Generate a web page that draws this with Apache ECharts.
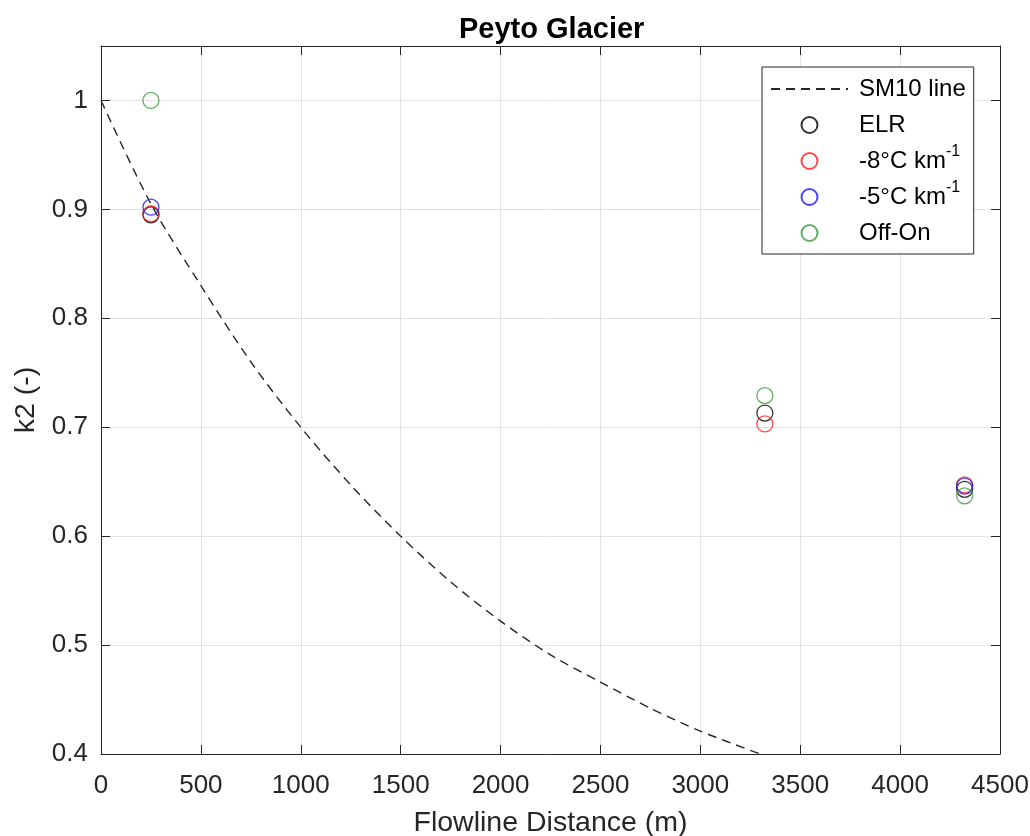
<!DOCTYPE html>
<html>
<head>
<meta charset="utf-8">
<script src="https://cdn.jsdelivr.net/npm/echarts@6/dist/echarts.min.js"></script>
<style>
  html, body { margin: 0; padding: 0; background: #fff; }
  #chart { width: 1030px; height: 836px; }
</style>
</head>
<body>
<div id="chart"></div>
<script>
// ---- data ----
const sm10X = [0, 250, 500, 750, 1000, 1250, 1500, 1750, 2000, 2250, 2500, 2750, 3000, 3300];
const sm10Y = [1.0, 0.905, 0.83, 0.76, 0.70, 0.647, 0.60, 0.558, 0.522, 0.491, 0.466, 0.442, 0.421, 0.40];

const siteX = [250, 3323, 4323];
const elrY = [0.895, 0.713, 0.643];
const m8Y = [0.896, 0.703, 0.647];
const m5Y = [0.902, null, 0.646];
const offOnY = [1.0, 0.729, 0.637];

const seriesNames = ['SM10 line', 'ELR', '-8°C km-1', '-5°C km-1', 'Off-On'];
const xTicks = { min: 0, max: 4500, interval: 500 };
const yTicks = { min: 0.4, max: 1.05, interval: 0.1 };

// ---- build ----
const pair = (xs, ys) => xs.map((x, i) => [x, ys[i]]).filter(p => p[1] !== null);
const axisCol = '#262626';
const gridCol = '#e3e3e3';
const font = 'Liberation Sans, Arial, sans-serif';

function scatter(name, ys, col) {
  return {
    name: name, type: 'scatter', data: pair(siteX, ys),
    symbol: 'circle', symbolSize: 16,
    itemStyle: { color: 'rgba(255,255,255,0)', borderColor: col, borderWidth: 1.3 },
    z: 3
  };
}
function tick() {
  return { show: true, inside: true, length: 9, lineStyle: { color: axisCol, width: 1 } };
}
function line() {
  return { show: true, onZero: false, lineStyle: { color: axisCol, width: 1 } };
}

const chart = echarts.init(document.getElementById('chart'), null, { renderer: 'canvas' });
const option = {
  backgroundColor: '#fff',
  animation: false,
  title: {
    text: 'Peyto Glacier', left: 454, top: 10,
    textStyle: { fontFamily: font, fontSize: 29, fontWeight: 'bold', color: '#000' }
  },
  grid: { left: 101, right: 30, top: 46, bottom: 82, containLabel: false, outerBoundsMode: 'none' },
  legend: {
    orient: 'vertical', left: 762, top: 67,
    data: [
      { name: seriesNames[0], itemStyle: { opacity: 0 } },
      seriesNames[1], seriesNames[2], seriesNames[3], seriesNames[4]
    ],
    itemWidth: 77, itemHeight: 16, itemGap: 2,
    padding: [5, 8, 4, 8],
    backgroundColor: '#fff', borderColor: axisCol, borderWidth: 1,
    textStyle: {
      fontFamily: font, fontSize: 24, color: '#000', lineHeight: 34,
      padding: [0, 0, 0, 6],
      rich: { sup: { fontFamily: font, fontSize: 16, verticalAlign: 'top', lineHeight: 18, color: '#000' } }
    },
    formatter: function (n) { return n.replace(/km-1$/, 'km{sup|-1}'); }
  },
  xAxis: [{
    type: 'value', position: 'bottom', min: xTicks.min, max: xTicks.max, interval: xTicks.interval,
    name: 'Flowline Distance (m)', nameLocation: 'middle', nameGap: 55,
    nameTextStyle: { fontFamily: font, fontSize: 28.5, color: axisCol },
    axisLine: line(),
    axisTick: tick(),
    axisLabel: { fontFamily: font, fontSize: 26, color: axisCol, margin: 19,
      formatter: function (v) { return String(v); } },
    splitLine: { show: true, lineStyle: { color: gridCol, width: 1 } }
  }, {
    type: 'value', position: 'top', min: xTicks.min, max: xTicks.max, interval: xTicks.interval,
    axisLine: line(),
    axisTick: tick(),
    axisLabel: { show: false }, splitLine: { show: false }
  }],
  yAxis: [{
    type: 'value', position: 'left', min: yTicks.min, max: yTicks.max, interval: yTicks.interval,
    name: 'k2 (-)', nameLocation: 'middle', nameGap: 53, nameRotate: 90,
    nameTextStyle: { fontFamily: font, fontSize: 28.5, color: axisCol },
    axisLine: line(),
    axisTick: tick(),
    axisLabel: {
      fontFamily: font, fontSize: 26, color: axisCol, margin: 13,
      formatter: function (v) { return v > 1.001 ? '' : String(Math.round(v * 10) / 10); }
    },
    splitLine: { show: true, lineStyle: { color: gridCol, width: 1 } }
  }, {
    type: 'value', position: 'right', min: yTicks.min, max: yTicks.max, interval: yTicks.interval,
    axisLine: line(),
    axisTick: tick(),
    axisLabel: { show: false }, splitLine: { show: false }
  }],
  series: [
    {
      name: seriesNames[0], type: 'line', data: pair(sm10X, sm10Y),
      smooth: 0.3, showSymbol: false, symbol: 'none',
      lineStyle: { color: axisCol, width: 1.4, type: [9, 6] },
      itemStyle: { color: axisCol },
      z: 2
    },
    scatter(seriesNames[1], elrY, '#000000'),
    scatter(seriesNames[2], m8Y, '#ff1a1a'),
    scatter(seriesNames[3], m5Y, '#1a1aff'),
    scatter(seriesNames[4], offOnY, '#3a9a3a')
  ]
};
chart.setOption(option);
</script>
</body>
</html>
